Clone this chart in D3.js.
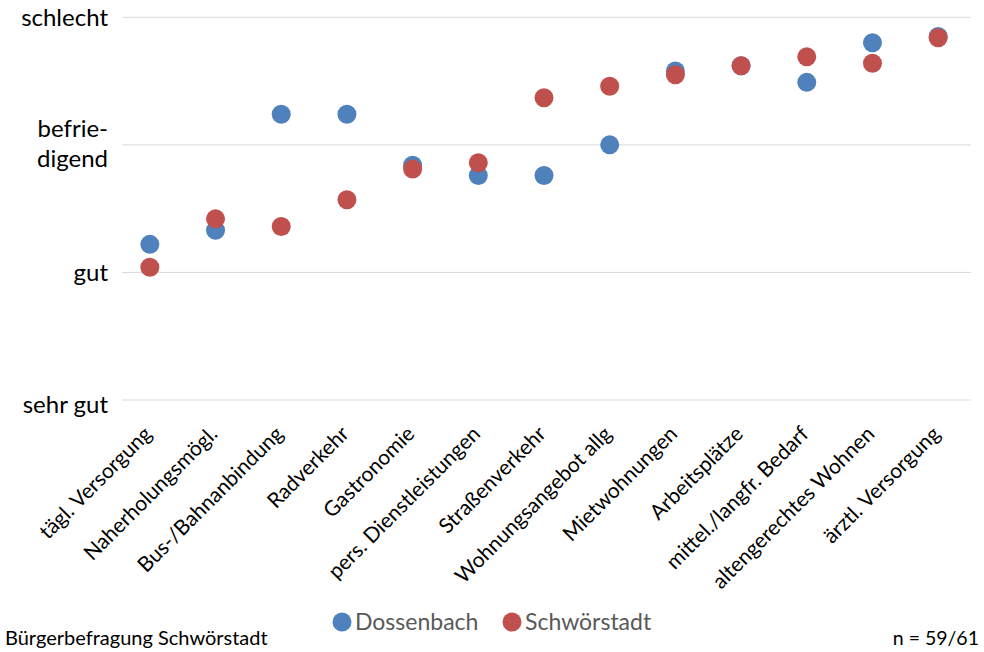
<!DOCTYPE html>
<html><head><meta charset="utf-8">
<script src="https://cdn.jsdelivr.net/npm/d3@7"></script>
<style>body{margin:0;background:#fff}svg{display:block}text{font-family:Lato,"Open Sans",sans-serif}</style>
</head><body><svg id="c" width="984" height="652"></svg>
<script>
const categories = ["tägl. Versorgung","Naherholungsmögl.","Bus-/Bahnanbindung","Radverkehr","Gastronomie","pers. Dienstleistungen","Straßenverkehr","Wohnungsangebot allg","Mietwohnungen","Arbeitsplätze","mittel./langfr. Bedarf","altengerechtes Wohnen","ärztl. Versorgung"];
const dossenbach = [2.22,2.33,3.24,3.24,2.84,2.76,2.76,3.00,3.58,3.62,3.49,3.80,3.85];
const schwoerstadt = [2.04,2.42,2.36,2.57,2.81,2.86,3.37,3.46,3.55,3.62,3.69,3.64,3.84];
const tickValues = [1,2,3,4];
const tickLabels = [["sehr gut"],["gut"],["befrie-","digend"],["schlecht"]];
const seriesNames = ["Dossenbach","Schwörstadt"];
const colors = ["#4F81BD","#C0504D"];

const svg = d3.select("#c");
const x = d3.scaleBand().domain(categories).range([117,971]);
const y = d3.scaleLinear().domain([1,4]).range([400,17.3]);

// gridlines
svg.append("g").selectAll("line").data(tickValues).join("line")
  .attr("x1",122).attr("x2",971).attr("y1",d=>y(d)).attr("y2",d=>y(d))
  .attr("stroke","#d9d9d9").attr("stroke-width",1);

// y labels
const yl = svg.append("g").attr("font-size",24).attr("fill","#000").attr("text-anchor","end");
const yOff = [5,0,-1,0];
tickValues.forEach((v,i)=>{
  const lines = tickLabels[i];
  const t = yl.append("text").attr("x",108).attr("y",y(v)+yOff[i]);
  lines.forEach((l,j)=>{
    t.append("tspan").attr("x",108)
     .attr("dy", j===0 ? (lines.length===1 ? "0.35em" : (-(lines.length-1)*0.62+0.35)+"em") : "1.24em")
     .text(l);
  });
});

// x labels
svg.append("g").selectAll("text").data(categories).join("text")
  .attr("transform",d=>`translate(${x(d)+x.bandwidth()/2-2},${430}) rotate(-45)`)
  .attr("text-anchor","end").attr("dy","0.35em").attr("font-size",21).attr("fill","#000")
  .text(d=>d);

// dots
[dossenbach, schwoerstadt].forEach((vals,s)=>{
  svg.append("g").selectAll("circle").data(vals).join("circle")
    .attr("cx",(d,i)=>x(categories[i])+x.bandwidth()/2)
    .attr("cy",d=>y(d)).attr("r",9.5).attr("fill",colors[s]);
});

// legend
const leg = svg.append("g");
const legX = [342,512];
seriesNames.forEach((n,i)=>{
  leg.append("circle").attr("cx",legX[i]).attr("cy",622).attr("r",9.5).attr("fill",colors[i]);
  leg.append("text").attr("x",legX[i]+13).attr("y",622).attr("dy","0.35em")
    .attr("font-size",23).attr("fill","#595959").text(n);
});

// footer
svg.append("text").attr("x",5).attr("y",638).attr("dy","0.35em").attr("font-size",20).attr("fill","#000").text("Bürgerbefragung Schwörstadt");
svg.append("text").attr("x",979).attr("y",638).attr("dy","0.35em").attr("text-anchor","end").attr("font-size",19.5).attr("fill","#000").text("n = 59/61");
</script></body></html>
